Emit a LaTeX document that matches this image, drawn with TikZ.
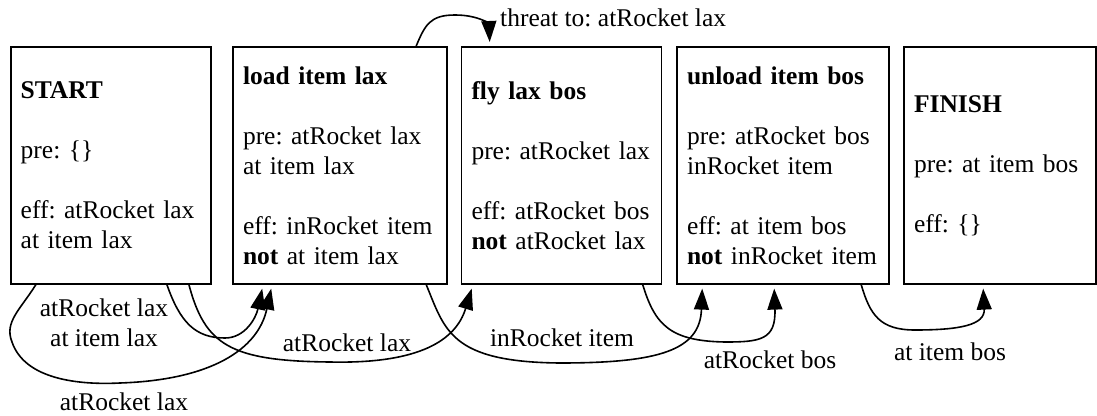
\documentclass[tikz,border=0pt]{standalone}
\usepackage{fontspec}
\setmainfont{Liberation Serif}
\usepackage{tikz}
\usetikzlibrary{arrows.meta, positioning}
\frenchspacing

\begin{document}
\begin{tikzpicture}[x=1pt, y=-1pt,
                    every node/.style={font=\fontsize{25.5}{30}\selectfont},
                    action/.style={draw, rectangle, line width=1.6pt, align=left,
                                   inner xsep=10pt, minimum height=237pt},
                    link/.style={line width=1.6pt, -{Triangle[length=21pt, width=15pt]}}]
                    \useasboundingbox (0,0) rectangle (1097,415);

                    \node[action, text width=180pt] (start) at (110.7, 165.3)
                        {\textbf{START}\\[30pt] pre: \{\}\\[30pt] eff: atRocket lax\\ at item lax};
                    \node[action, text width=194pt] (load) at (340, 165.3)
                        {\textbf{load item lax}\\[30pt] pre: atRocket lax\\ at item lax\\[30pt] eff: inRocket item\\ \textbf{not} at item lax};
                    \node[action, text width=180pt] (fly) at (561.5, 165.3)
                        {\textbf{fly lax bos}\\[30pt] pre: atRocket lax\\[30pt] eff: atRocket bos\\ \textbf{not} atRocket lax};
                    \node[action, text width=192pt] (unload) at (783, 165.3)
                        {\textbf{unload item bos}\\[30pt] pre: atRocket bos\\ inRocket item\\[30pt] eff: at item bos\\ \textbf{not} inRocket item};
                    \node[action, text width=172pt] (finish) at (1000, 165.3)
                        {\textbf{FINISH}\\[30pt] pre: at item bos\\[30pt] eff: \{\}};

                    % causal links
                    \draw[link] ([xshift=157pt]start.south west)
                        .. controls (180,322) and (195,338) .. (225,338)
                        .. controls (245,338) and (256,318) .. ([xshift=30pt, yshift=-4pt]load.south west);
                    \draw[link] ([xshift=179pt]start.south west)
                        .. controls (205,345) and (230,361) .. (330,362)
                        .. controls (420,364) and (456,340) .. ([xshift=11pt, yshift=-4pt]fly.south west);
                    \draw[link] ([xshift=26pt]start.south west)
                        .. controls (20,310) and (4,322) .. (12,342)
                        .. controls (25,380) and (80,385) .. (120,383)
                        .. controls (210,380) and (258,350) .. ([xshift=39pt, yshift=-4pt]load.south west);
                    \draw[link] ([xshift=194pt]load.south west)
                        .. controls (445,330) and (450,362) .. (560,363)
                        .. controls (660,363) and (700,350) .. ([xshift=26pt, yshift=-4pt]unload.south west);
                    \draw[link] ([xshift=182pt]fly.south west)
                        .. controls (655,325) and (670,341) .. (725,342)
                        .. controls (760,342) and (776,340) .. ([xshift=98pt, yshift=-4pt]unload.south west);
                    \draw[link] ([xshift=185pt]unload.south west)
                        .. controls (870,315) and (880,330) .. (915,330)
                        .. controls (960,330) and (985,325) .. ([xshift=80pt, yshift=-4pt]finish.south west);

                    % threat
                    \draw[link] ([xshift=184pt]load.north west)
                        .. controls (425,25) and (430,15) .. (455,15)
                        .. controls (480,15) and (489,25) .. ([xshift=29pt, yshift=4pt]fly.north west);

                    \node[align=center] (l1) at (104, 323) {atRocket lax\\ at item lax};
                    \node (l2) at (347, 343) {atRocket lax};
                    \node (l3) at (124, 402) {atRocket lax};
                    \node (l4) at (562, 338) {inRocket item};
                    \node (l5) at (770, 360) {atRocket bos};
                    \node (l6) at (950, 352) {at item bos};
                    \node[anchor=west, inner xsep=0pt] (l7) at (500, 18) {threat to: atRocket lax};
                \end{tikzpicture}
\end{document}
